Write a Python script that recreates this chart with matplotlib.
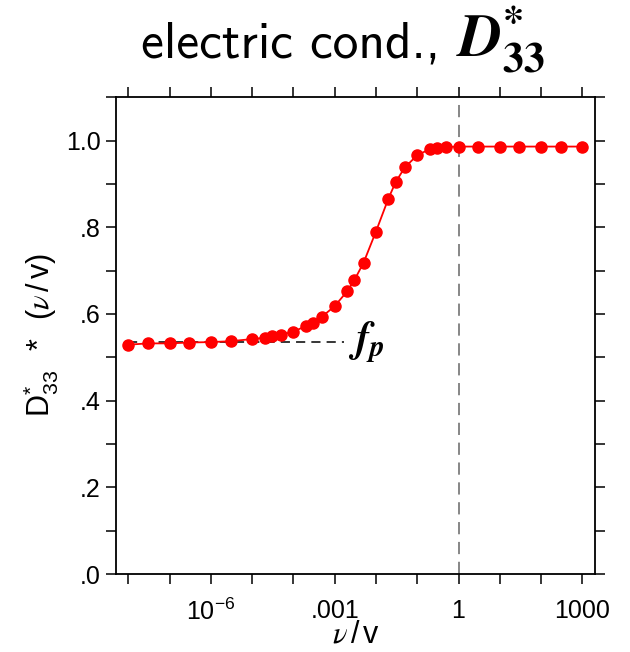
import numpy as np
import matplotlib
matplotlib.use('Agg')
import matplotlib.pyplot as plt
from matplotlib import font_manager
from matplotlib.ticker import FixedLocator, FixedFormatter, MultipleLocator

plt.rcParams['font.family'] = ['Liberation Sans', 'DejaVu Sans']
plt.rcParams['mathtext.fontset'] = 'custom'
plt.rcParams['mathtext.rm'] = 'Liberation Sans'
plt.rcParams['mathtext.sf'] = 'Liberation Sans'
plt.rcParams['mathtext.it'] = 'STIXGeneral:italic'
plt.rcParams['mathtext.bf'] = 'STIXGeneral:bold'
plt.rcParams['mathtext.bfit'] = 'STIXGeneral:italic:bold'

# frequency ratio nu/v and D33* values
nu = [1e-8, 3e-8, 1e-7, 3e-7, 1e-6, 3e-6, 1e-5, 2e-5, 3e-5, 5e-5,
      1e-4, 2e-4, 3e-4, 5e-4, 1e-3, 2e-3, 3e-3, 5e-3, 1e-2, 2e-2,
      3e-2, 5e-2, 0.1, 0.2, 0.3, 0.5, 1, 3, 10, 30, 100, 300, 1000]
D33 = [0.529, 0.532, 0.532, 0.534, 0.535, 0.537, 0.542, 0.545, 0.548, 0.552,
       0.559, 0.572, 0.579, 0.594, 0.618, 0.652, 0.678, 0.718, 0.790, 0.866,
       0.904, 0.938, 0.966, 0.980, 0.982, 0.985, 0.986, 0.986, 0.986, 0.986,
       0.986, 0.986, 0.986]
fp = 0.535
decades = [1e-8, 1e-7, 1e-6, 1e-5, 1e-4, 1e-3, 1e-2, 1e-1, 1, 10, 100, 1000]
xlabels = ['', '', r'$\mathsf{10^{-6}}$', '', '', '.001', '', '', '1', '', '', '1000']
yticks = [0, 0.2, 0.4, 0.6, 0.8, 1.0]
ylabels = ['.0', '.2', '.4', '.6', '.8', '1.0']

# narrow sans for the title if it is there, otherwise computer modern sans
names = {f.name for f in font_manager.fontManager.ttflist}
if 'Liberation Sans Narrow' in names:
    tfam, tsize = 'Liberation Sans Narrow', 43
else:
    tfam, tsize = 'cmss10', 37

fig = plt.figure(figsize=(6.3, 6.52), dpi=100)
ax = fig.add_axes([0.184, 0.1196, 0.76, 0.7314])

ax.axvline(1, color='#666666', lw=1.1, ls=(0, (8, 5)), zorder=1)
ax.hlines(fp, 1e-8, 1.7e-3, colors='k', lw=1.1, linestyles=(0, (6, 4)), zorder=1)
ax.plot(nu, D33, '-', color='red', lw=1.3, marker='o', ms=8, zorder=3)
ax.text(2.1e-3, fp, r'$\boldsymbol{f}_{\boldsymbol{p}}$', fontsize=30,
        va='center', ha='left')

ax.set_xscale('log')
ax.set_xlim(10**-8.3, 10**3.3)
ax.set_ylim(0, 1.1)
ax.xaxis.set_major_locator(FixedLocator(decades))
ax.xaxis.set_major_formatter(FixedFormatter(xlabels))
ax.xaxis.set_minor_locator(FixedLocator([]))
ax.set_yticks(yticks)
ax.set_yticklabels(ylabels)
ax.yaxis.set_minor_locator(MultipleLocator(0.1))

ax.tick_params(which='both', direction='out', length=7, width=1.1,
               top=True, right=True, labelsize=18)
ax.tick_params(axis='x', pad=11)
ax.tick_params(axis='y', pad=4)
for s in ax.spines.values():
    s.set_linewidth(1.3)

ax.set_xlabel(r'$\nu\,/\,\mathrm{v}$', fontsize=22, labelpad=-4)
ax.set_ylabel(r'$\mathrm{D}^{*}_{33}\ \ *\ \ (\nu\,/\,\mathrm{v})$', fontsize=22, labelpad=4)

# title in two pieces: plain words and the bold-italic symbol
fig.text(440 / 630, 1 - 57 / 652, 'electric cond.,', family=[tfam, 'DejaVu Sans'],
         fontsize=tsize, ha='right', va='baseline')
fig.text(456 / 630, 1 - 57 / 652,
         r'$\boldsymbol{D}^{\boldsymbol{*}}_{\boldsymbol{33}}$',
         fontsize=43, ha='left', va='baseline')

fig.savefig('out.png', dpi=100)
